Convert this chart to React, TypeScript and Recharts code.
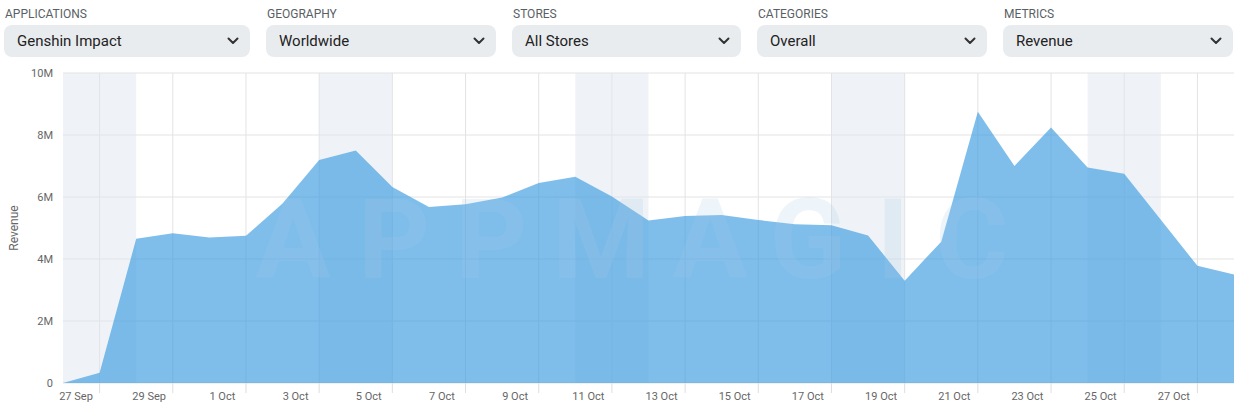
import React from 'react';
import { AreaChart, Area, XAxis, YAxis, CartesianGrid, ReferenceArea } from 'recharts';

const dates = [
  '27 Sep', '28 Sep', '29 Sep', '30 Sep', '1 Oct', '2 Oct', '3 Oct', '4 Oct', '5 Oct', '6 Oct',
  '7 Oct', '8 Oct', '9 Oct', '10 Oct', '11 Oct', '12 Oct', '13 Oct', '14 Oct', '15 Oct', '16 Oct',
  '17 Oct', '18 Oct', '19 Oct', '20 Oct', '21 Oct', '22 Oct', '23 Oct', '24 Oct', '25 Oct', '26 Oct',
  '27 Oct', '28 Oct', '29 Oct',
];

const revenue = [
  0, 330000, 4650000, 4830000, 4690000, 4750000, 5790000, 7190000, 7500000, 6320000,
  5680000, 5770000, 5980000, 6450000, 6650000, 6020000, 5240000, 5390000, 5420000, 5260000,
  5120000, 5090000, 4760000, 3300000, 4560000, 8750000, 7000000, 8240000, 6950000, 6750000,
  5270000, 3780000, 3500000,
];

const weekendRanges: [number, number][] = [[0, 2], [7, 9], [14, 16], [21, 23], [28, 30]];
const yTicks = [0, 2000000, 4000000, 6000000, 8000000, 10000000];
const filterLabels = ['APPLICATIONS', 'GEOGRAPHY', 'STORES', 'CATEGORIES', 'METRICS'];
const filterValues = ['Genshin Impact', 'Worldwide', 'All Stores', 'Overall', 'Revenue'];
const watermarkText = 'APPMAGIC';

const data = dates.map((d, i) => ({ i, date: d, revenue: revenue[i] }));
const xTicks = dates.map((_, i) => i);
const oddIdx = xTicks.filter((i) => i % 2 === 1);
const X_MAX = dates.length - 1;

const FONT = 'Roboto, "Noto Sans", sans-serif';

const boxes = [
  { left: 4, width: 246 },
  { left: 266, width: 230 },
  { left: 512, width: 229 },
  { left: 757, width: 230 },
  { left: 1003, width: 230 },
];

const XTick = (props: any) => {
  const { x, y, payload } = props;
  const i = payload.value as number;
  if (i % 2 === 1) {
    return <line x1={x} x2={x} y1={y} y2={y + 10} stroke="#dedede" strokeWidth={1} />;
  }
  if (i > 30) return null;
  return (
    <text x={x + 13} y={y + 17} textAnchor="middle" fontSize={11} fill="#666" fontFamily={FONT}>
      {dates[i]}
    </text>
  );
};

const YLabel = (props: any) => {
  const vb = props.viewBox || { x: 0, y: 73, width: 63, height: 310 };
  const cx = 14;
  const cy = vb.y + vb.height / 2;
  return (
    <text x={cx} y={cy} transform={`rotate(-90 ${cx} ${cy})`} textAnchor="middle" dominantBaseline="central" fontSize={12} fill="#666" fontFamily={FONT}>
      Revenue
    </text>
  );
};

const Chevron = () => (
  <svg width="12" height="8" viewBox="0 0 12 8" style={{ display: 'block' }}>
    <polyline points="1.5,1.5 6,6 10.5,1.5" fill="none" stroke="#333" strokeWidth="2" strokeLinecap="round" strokeLinejoin="round" />
  </svg>
);

const letterCenters = [293, 394, 491, 601, 710, 808, 893, 972];

const verticalGen = (args: any) => {
  const xAxis = args && args.xAxis;
  if (xAxis && typeof xAxis.scale === 'function') {
    return oddIdx.map((i) => xAxis.scale(i));
  }
  const off = args.offset;
  return oddIdx.map((i) => off.left + (i * off.width) / X_MAX);
};

export default function App() {
  return (
    <div style={{ position: 'absolute', left: 0, top: 0, width: 1234, height: 411, background: '#fff', overflow: 'hidden', fontFamily: FONT }}>
      <div style={{ position: 'absolute', left: 0, top: 0 }}>
        <AreaChart width={1234} height={411} data={data} margin={{ top: 73, right: 0, left: 0, bottom: 0 }}>
          <CartesianGrid stroke="#e3e3e3" strokeWidth={1} verticalCoordinatesGenerator={verticalGen} />
          {weekendRanges.map(([a, b], k) => (
            <ReferenceArea key={`w${k}`} x1={a} x2={b} y1={0} y2={10000000} fill="#dfe7ef" fillOpacity={0.5} stroke="none" ifOverflow="hidden" />
          ))}
          <XAxis
            dataKey="i"
            type="number"
            domain={[0, X_MAX]}
            ticks={xTicks}
            interval={0}
            tickLine={false}
            axisLine={false}
            tickSize={0}
            tickMargin={0}
            height={28}
            tick={<XTick />}
          />
          <YAxis
            domain={[0, 10000000]}
            ticks={yTicks}
            width={63}
            tickLine={false}
            axisLine={false}
            tickMargin={4}
            tick={{ fontSize: 11, fill: '#666', fontFamily: FONT }}
            tickFormatter={(v: number) => (v === 0 ? '0' : `${v / 1000000}M`)}
            label={{ value: 'Revenue', content: <YLabel /> }}
          />
          <Area
            type="linear"
            dataKey="revenue"
            stroke="none"
            fill="#3a9be0"
            fillOpacity={0.65}
            isAnimationActive={false}
            dot={false}
            activeDot={false}
          />
        </AreaChart>
      </div>
      <svg width={1234} height={411} style={{ position: 'absolute', left: 0, top: 0, pointerEvents: 'none' }}>
        <text y={278} textAnchor="middle" fontSize={112} fontWeight={700} fontFamily={FONT} fill="rgb(165,198,232)" fillOpacity={0.2}>
          {watermarkText.split('').map((ch, k) => (
            <tspan key={k} x={letterCenters[k]}>{ch}</tspan>
          ))}
        </text>
      </svg>
      {boxes.map((b, k) => (
        <React.Fragment key={k}>
          <div style={{ position: 'absolute', left: b.left + 1, top: 7, fontSize: 12, color: '#5a5f66', lineHeight: 'normal', letterSpacing: 0 }}>
            {filterLabels[k]}
          </div>
          <div
            style={{
              position: 'absolute',
              left: b.left,
              top: 25,
              width: b.width,
              height: 32,
              borderRadius: 8,
              background: '#e9ecef',
              display: 'flex',
              alignItems: 'center',
              justifyContent: 'space-between',
              boxSizing: 'border-box',
              padding: '0 11px 1px 13px',
            }}
          >
            <span style={{ fontSize: 15, color: '#222' }}>{filterValues[k]}</span>
            <Chevron />
          </div>
        </React.Fragment>
      ))}
    </div>
  );
}
